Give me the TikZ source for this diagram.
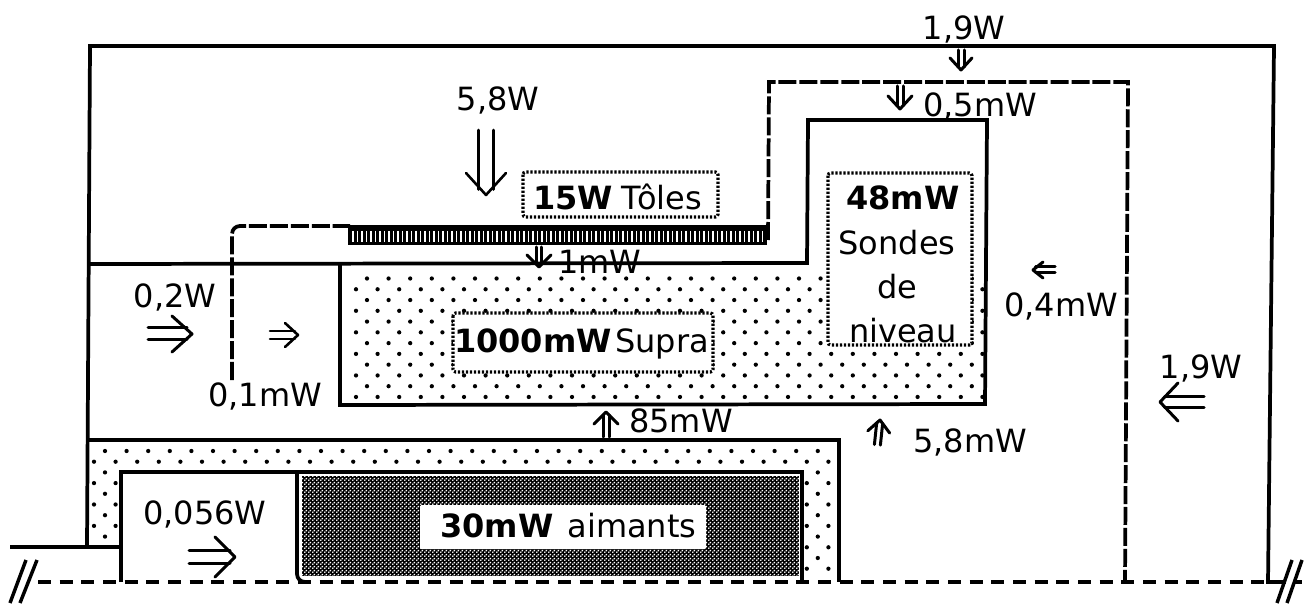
\documentclass[tikz,border=0pt]{standalone}
\usepackage{fontspec}
\setmainfont{DejaVu Sans}
\usetikzlibrary{patterns}
\pgfdeclarepatternformonly{chk}{\pgfqpoint{0pt}{0pt}}{\pgfqpoint{3pt}{3pt}}{\pgfqpoint{3pt}{3pt}}{%
  \pgfpathcircle{\pgfqpoint{0.75pt}{0.75pt}}{0.85pt}\pgfpathcircle{\pgfqpoint{2.25pt}{2.25pt}}{0.85pt}\pgfusepath{fill}}
\newcommand{\dblarrow}[9]{% x y rot len depth halfwidth sep lw (#9 unused name)
  \begin{scope}[shift={(#1,#2)},rotate=#3,line width=#8*0.75pt,line cap=round,line join=round]
    \draw (-#4,-#7/2) -- (-#5*0.25,-#7/2) (-#4,#7/2) -- (-#5*0.25,#7/2);
    \draw (-#5,-#6) -- (0,0) -- (-#5,#6);
  \end{scope}}
\tikzset{
  wall/.style={line width=2.8pt,line join=miter},
  dashwall/.style={line width=2.8pt,dash pattern=on 13.5pt off 2.2pt},
  floorline/.style={line width=3pt,dash pattern=on 9.75pt off 6.5pt},
  dotbox/.style={line width=2.4pt,dash pattern=on 1.6pt off 1.4pt,fill=white,rounded corners=2pt},
  lab/.style={anchor=base,inner sep=0pt,font=\fontsize{24}{28}\selectfont},
  bld/.style={lab,font=\fontsize{24}{28}\selectfont\bfseries},
}
\begin{document}
\begin{tikzpicture}[x=0.75pt,y=-0.75pt]
\useasboundingbox (0,0) rectangle (1308,605);
% stippled regions
\begin{scope}
  \clip (342,266) rectangle (985,403);
  \foreach \i in {0,...,11}{\foreach \j in {0,...,30}{
    \fill ({356+11*mod(\i+1,2)+21.6*\j},{278.5+10.77*\i}) circle[radius=1.6pt];}}
\end{scope}
\begin{scope}
  \clip (89,442) -- (838,442) -- (838,582) -- (122,582) -- (122,547) -- (88,547) -- cycle;
  \foreach \i in {0,...,11}{\foreach \j in {0,...,34}{
    \fill ({94+11*mod(\i+1,2)+21.6*\j},{451+10.7*\i}) circle[radius=1.6pt];}}
\end{scope}
\fill[white] (121,473) rectangle (803,582);
% magnets
\fill[black] (302,476) rectangle (799,576);
\fill[pattern=chk,pattern color=white] (302,476) rectangle (799,576);
\fill[white,rounded corners=1pt] (420,505) rectangle (706,549);
% walls
\draw[wall] (87,547) -- (90,46) -- (1274,46) -- (1268,582) -- (1284,582);
\draw[wall] (89,264) -- (807,263) -- (808,120) -- (987,120) -- (985,404) -- (340,405) -- (340,264);
\draw[wall] (87,440) -- (839,440) -- (839,582);
\draw[wall] (10,547) -- (121,547);
\draw[wall] (121,582) -- (121,472) -- (802,472) -- (802,582);
\draw[wall,rounded corners=6pt] (297,472) -- (297,582) -- (310,582);
% radiation shield
\draw[dashwall,rounded corners=6pt] (232,380) -- (232,226) -- (350,226);
\draw[dashwall] (768,240) -- (769,82) -- (1128,82) -- (1125,582);
% foil bar
\fill[black] (348,225) rectangle (767,245);
\foreach \k in {0,...,91}{\draw[white,line width=1.1pt] ({353+4.5*\k},231) -- ({353+4.5*\k},242);}
% floor
\draw[floorline] (38,582) -- (1302,582);
\draw[line width=2.6pt] (10,603) -- (26,560) (20,603) -- (37,560);
\draw[line width=2.6pt] (1277,603) -- (1292,560) (1287,603) -- (1302,560);
% dotted boxes
\draw[dotbox] (523,172) rectangle (718,217);
\draw[dotbox] (828,173) rectangle (972,345);
\draw[dotbox] (453,313) rectangle (713,372);
% arrows
\dblarrow{486}{195}{-90}{65}{22}{20}{15}{2.6}{}
\dblarrow{961}{70}{-90}{20}{12}{11}{6}{3}{}
\dblarrow{900}{109}{-90}{23}{13}{12}{6}{3}{}
\dblarrow{539}{267}{-90}{20}{12}{12}{5}{3}{}
\dblarrow{192}{334}{0}{44}{20}{18}{12}{3}{}
\dblarrow{298}{335}{0}{28}{13}{12}{8}{2.6}{}
\dblarrow{606}{412}{90}{25}{12}{12}{6}{3}{}
\dblarrow{880}{420}{84}{25}{12}{11}{6}{3}{}
\dblarrow{1033}{270}{180}{22}{10}{8}{6}{3}{}
\dblarrow{1160}{402}{180}{44}{18}{19}{11}{3}{}
\dblarrow{235}{557}{0}{46}{20}{20}{13}{3}{}
% labels
\node[lab] (a) at (964,39.5) {1,9W};
\node[lab] (b) at (498,111) {5,8W};
\node[lab] (c) at (980,116.5) {0,5mW};
\node[lab] (d) at (600,273.5) {1mW};
\node[lab] (e) at (175,307.5) {0,2W};
\node[lab] (f) at (265,406.5) {0,1mW};
\node[lab] (g) at (681,432.5) {85mW};
\node[lab] (h) at (970,452.5) {5,8mW};
\node[lab] (i) at (1061,316.5) {0,4mW};
\node[lab] (j) at (1201,378.5) {1,9W};
\node[lab] (k) at (205,524.5) {0,056W};
\node[bld] (l) at (573,209.5) {15W};
\node[lab] (m) at (662,209.5) {Tôles};
\node[bld] (n) at (903,209.5) {48mW};
\node[lab] (o) at (897,254.5) {Sondes};
\node[lab] (p) at (897,298.5) {de};
\node[lab] (q) at (903,343) {niveau};
\node[bld] (r) at (533,352.5) {1000mW};
\node[lab] (s) at (662,352.5) {Supra};
\node[bld] (t) at (497,537.5) {30mW};
\node[lab] (u) at (632,537.5) {aimants};
\end{tikzpicture}
\end{document}
